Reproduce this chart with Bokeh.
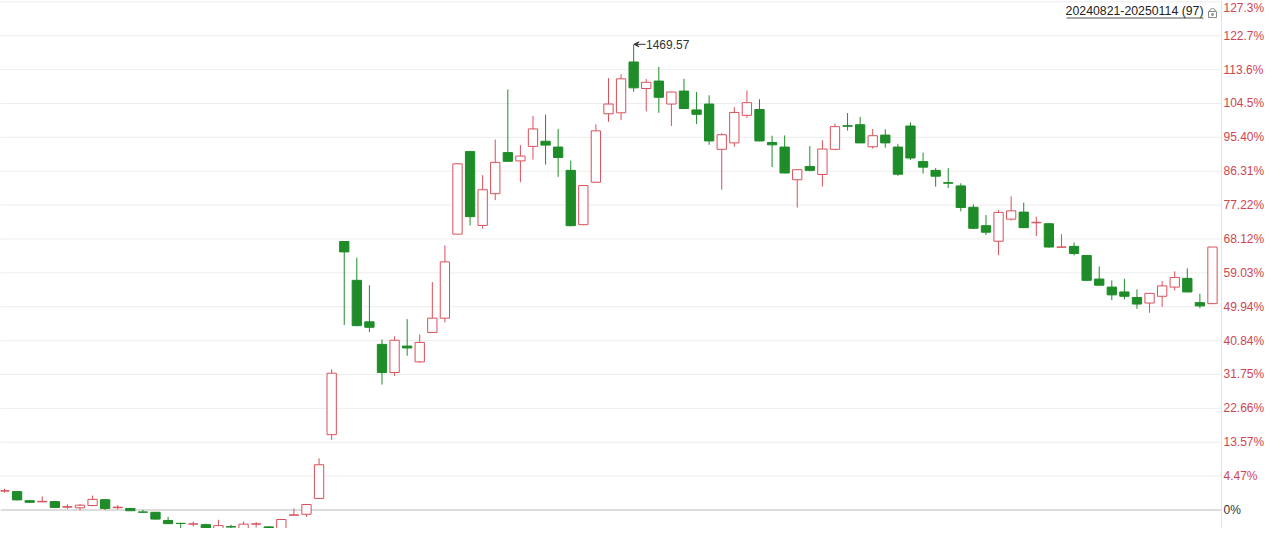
import numpy as np
from bokeh.plotting import figure
from bokeh.models import Range1d, Span, Arrow, VeeHead, ColumnDataSource, Label
from bokeh.core.properties import value
from bokeh.embed import file_html
from bokeh.resources import INLINE

# ---------------- data ----------------
start_date = "20240821"
end_date = "20250114"

opens = [670.0, 669.1, 652.9, 650.8, 651.2, 641.3, 640.1, 644.2, 654.7, 640.4,
         639.0, 632.6, 632.1, 617.5, 612.3, 610.9, 610.0, 597.9, 606.5, 599.6,
         610.9, 606.0, 601.3, 626.9, 628.6, 656.9, 771.0, 1116.7, 1047.2, 973.0,
         932.6, 882.2, 929.6, 901.3, 953.9, 979.5, 1129.9, 1277.6, 1145.5, 1202.3,
         1275.8, 1260.9, 1286.9, 1296.1, 1285.7, 1244.0, 1146.8, 1222.7, 1345.3, 1347.0,
         1438.0, 1390.5, 1403.8, 1362.7, 1385.9, 1352.2, 1362.7, 1281.7, 1293.2, 1342.5,
         1352.9, 1293.9, 1285.7, 1227.2, 1251.0, 1236.6, 1281.7, 1323.9, 1325.7, 1286.2,
         1307.1, 1285.7, 1323.4, 1259.7, 1244.0, 1222.0, 1216.2, 1178.0, 1145.0, 1117.2,
         1156.7, 1169.3, 1150.2, 1148.5, 1106.5, 1108.0, 1091.7, 1049.5, 1035.1, 1026.4,
         1016.5, 1006.6, 1018.7, 1035.1, 1050.7, 1007.3, 1005.5]

highs = [674.3, 670.0, 654.3, 660.4, 651.7, 646.5, 647.0, 662.1, 655.2, 644.8,
         639.5, 636.6, 632.6, 623.9, 613.5, 615.8, 611.8, 618.7, 610.0, 615.8,
         614.7, 607.4, 620.4, 639.0, 646.5, 728.7, 887.9, 1117.2, 1087.7, 1038.5,
         941.3, 947.0, 977.7, 950.5, 1044.3, 1109.8, 1257.1, 1278.8, 1235.3, 1299.1,
         1388.7, 1289.2, 1341.3, 1343.6, 1318.2, 1261.4, 1217.1, 1326.2, 1409.0, 1416.0,
         1469.57, 1407.3, 1429.4, 1384.7, 1407.8, 1384.2, 1378.3, 1310.6, 1356.9, 1387.0,
         1371.3, 1306.0, 1306.6, 1245.8, 1287.4, 1297.9, 1327.9, 1346.5, 1339.6, 1318.2,
         1317.5, 1291.5, 1329.7, 1275.8, 1248.0, 1248.0, 1220.9, 1183.2, 1164.1, 1172.8,
         1197.6, 1186.2, 1161.2, 1149.4, 1129.9, 1115.0, 1092.0, 1072.1, 1047.2, 1050.0,
         1030.9, 1024.3, 1046.0, 1063.4, 1068.6, 1023.4, 1106.8]

lows = [667.3, 653.4, 649.1, 650.0, 640.4, 637.8, 635.6, 643.0, 636.1, 637.3,
        634.3, 631.4, 619.2, 610.9, 603.1, 606.5, 597.9, 594.4, 599.6, 597.9,
        604.8, 597.9, 599.6, 626.5, 623.9, 656.1, 761.7, 967.3, 965.2, 954.5,
        860.7, 876.3, 912.3, 899.6, 953.1, 971.8, 1129.4, 1145.5, 1139.8, 1190.7,
        1259.7, 1222.7, 1263.1, 1254.4, 1232.4, 1144.1, 1145.9, 1222.3, 1330.9, 1333.8,
        1384.7, 1349.5, 1347.0, 1323.4, 1353.5, 1326.9, 1289.7, 1209.3, 1286.2, 1337.8,
        1296.1, 1249.8, 1238.8, 1177.5, 1242.3, 1215.0, 1280.5, 1315.2, 1292.7, 1282.8,
        1284.5, 1234.1, 1262.6, 1238.3, 1215.0, 1212.2, 1170.6, 1138.9, 1128.2, 1092.4,
        1154.2, 1140.7, 1126.4, 1105.9, 1105.9, 1091.7, 1046.0, 1038.2, 1011.8, 1013.0,
        996.2, 989.2, 999.6, 1029.2, 1026.0, 997.4, 1005.2]

closes = [670.8, 654.3, 650.0, 651.7, 640.8, 642.2, 644.8, 655.2, 639.0, 641.3,
          634.9, 632.3, 619.9, 611.8, 612.0, 611.4, 599.6, 608.3, 605.7, 610.9,
          611.3, 599.6, 619.2, 627.4, 646.0, 717.2, 881.0, 1098.1, 966.1, 963.2,
          882.2, 940.0, 926.2, 936.1, 979.5, 1080.2, 1255.7, 1161.2, 1209.3, 1258.4,
          1260.2, 1269.6, 1318.2, 1289.2, 1267.1, 1145.0, 1216.8, 1314.7, 1362.7, 1407.8,
          1391.7, 1401.6, 1374.8, 1384.2, 1354.7, 1344.3, 1296.7, 1307.8, 1347.7, 1365.1,
          1296.7, 1289.7, 1239.3, 1245.2, 1244.0, 1282.2, 1322.2, 1322.9, 1293.2, 1306.0,
          1293.2, 1237.1, 1266.1, 1249.8, 1233.6, 1220.9, 1177.5, 1140.3, 1133.4, 1168.8,
          1171.6, 1141.5, 1151.1, 1106.8, 1106.8, 1095.2, 1047.2, 1038.5, 1021.2, 1018.7,
          1004.8, 1023.9, 1037.3, 1052.4, 1026.4, 1001.4, 1106.8]

# right-side percentage scale labels (bottom to top, evenly spaced grid)
pct_labels = ["4.47%", "13.57%", "22.66%", "31.75%", "40.84%", "49.94%", "59.03%",
              "68.12%", "77.22%", "86.31%", "95.40%", "104.5%", "113.6%", "122.7%", "127.3%"]
zero_label = "0%"
base_price = 667.0
first_grid_pct = 4.47
grid_step_pct = 9.09

# ---------------- styling / layout ----------------
UP = "#d9505a"
DOWN = "#1e8c28"
AXIS_RED = "#cf4550"
FONT = "Liberation Sans"
FIG_W, FIG_H = 1264, 528
Y_TOP, Y_BOTTOM = 1548.0, 603.1
PRICE_PER_PX = (Y_TOP - Y_BOTTOM) / FIG_H
PX_PER_IDX = 12.583
X_START = -0.318
X_END = X_START + FIG_W / PX_PER_IDX
AXIS_X = X_START + 1221 / PX_PER_IDX


def rx(px):
    """figure pixel (from left) -> data x"""
    return X_START + px / PX_PER_IDX


def ry(py):
    """figure pixel (from top) -> data y"""
    return Y_TOP - py * PRICE_PER_PX


o = np.array(opens); h = np.array(highs); l = np.array(lows); c = np.array(closes)
n = len(o)
idx = np.arange(n)
up = c >= o
dn = ~up
top = np.maximum(o, c)
bot = np.minimum(o, c)

src_up = ColumnDataSource(dict(x=idx[up], top=top[up], bot=bot[up], h=h[up], l=l[up]))
src_dn = ColumnDataSource(dict(x=idx[dn], top=top[dn], bot=bot[dn], h=h[dn], l=l[dn]))

p = figure(width=FIG_W, height=FIG_H,
           x_range=Range1d(X_START, X_END), y_range=Range1d(Y_BOTTOM, Y_TOP),
           toolbar_location=None, output_backend="svg",
           min_border_left=0, min_border_top=0, min_border_bottom=0, min_border_right=0)
p.outline_line_color = None
p.background_fill_color = "white"
p.xaxis.visible = False
p.yaxis.visible = False
p.xgrid.visible = False
p.ygrid.visible = False

# percentage scale: grid lines stop at the axis line, labels to its right
step = base_price * grid_step_pct / 100.0
first = base_price * (1 + first_grid_pct / 100.0)
tick_prices = [first + k * step for k in range(len(pct_labels))]
zero_price = first - step

p.segment(x0=[X_START] * len(tick_prices), y0=tick_prices,
          x1=[AXIS_X] * len(tick_prices), y1=tick_prices,
          line_color="#ededed", line_width=1)
p.segment(x0=[X_START], y0=[zero_price], x1=[AXIS_X], y1=[zero_price],
          line_color="#d2d2d2", line_width=1.5)
p.add_layout(Span(location=AXIS_X, dimension="height", line_color="#e3e3e3", line_width=1))

label_y = [min(t, ry(7)) for t in tick_prices]
p.text(x=[AXIS_X] * len(pct_labels), y=label_y, text=pct_labels, x_offset=2,
       text_baseline="middle", text_align="left", text_color=AXIS_RED,
       text_font=value(FONT), text_font_size="12px")
p.text(x=[AXIS_X], y=[zero_price], text=[zero_label], x_offset=2,
       text_baseline="middle", text_align="left", text_color="#333333",
       text_font=value(FONT), text_font_size="12px")

# candles
W = 0.74
p.segment(x0="x", y0="h", x1="x", y1="l", source=src_dn, line_color=DOWN, line_width=1)
p.vbar(x="x", width=W, top="top", bottom="bot", source=src_dn,
       fill_color=DOWN, line_color=DOWN, line_width=1)
p.segment(x0="x", y0="h", x1="x", y1="l", source=src_up, line_color=UP, line_width=1)
p.vbar(x="x", width=W, top="top", bottom="bot", source=src_up,
       fill_color="white", line_color=UP, line_width=1)

# max-high annotation
imax = int(np.argmax(h))
p.add_layout(Arrow(x_start=imax + 0.95, y_start=h[imax], x_end=imax + 0.03, y_end=h[imax],
                   line_color="#333333", line_width=1,
                   end=VeeHead(size=5, line_color="#333333", fill_color="#333333", line_width=1)))
p.add_layout(Label(x=imax + 0.98, y=h[imax], text=f"{h[imax]:.2f}",
                   text_baseline="middle", text_align="left",
                   text_color="#333333", text_font=FONT, text_font_size="12px"))

# top-right range label with underline and lock icon
p.add_layout(Label(x=rx(1203), y=ry(10.5), text=f"{start_date}-{end_date} ({n})",
                   text_baseline="middle", text_align="right",
                   text_color="#222222", text_font=FONT, text_font_size="12.3px"))
p.segment(x0=[rx(1066)], y0=[ry(17.5)], x1=[rx(1203)], y1=[ry(17.5)],
          line_color="#555555", line_width=1)
p.rect(x=[rx(1212)], y=[ry(14)], width=8, height=6, width_units="screen", height_units="screen",
       fill_color=None, line_color="#8a8a8a", line_width=1)
p.arc(x=[rx(1212)], y=[ry(11)], radius=3, radius_units="screen",
      start_angle=0, end_angle=np.pi, line_color="#8a8a8a", line_width=1)
p.scatter(x=[rx(1212)], y=[ry(14)], size=2, color="#8a8a8a")

open("out.html", "w").write(file_html(p, INLINE))
